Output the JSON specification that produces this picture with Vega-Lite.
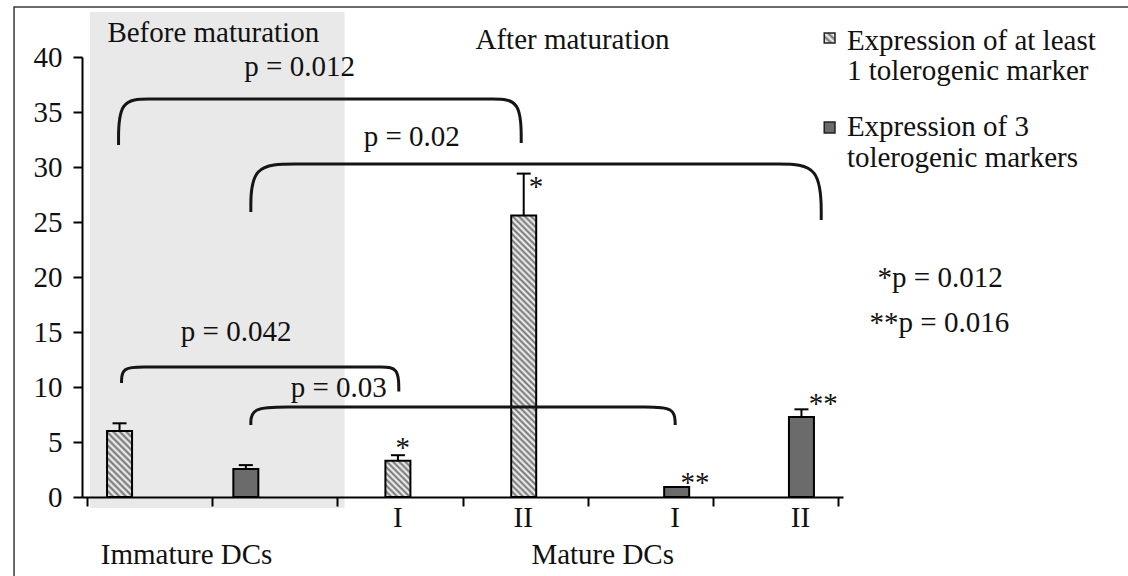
{
"$schema":"https://vega.github.io/schema/vega-lite/v6.json",
"autosize":{"type":"none"},
"padding":{"left":82,"top":57,"right":285,"bottom":79},
"width":761,"height":440,
"background":"white",
"config":{"view":{"stroke":null},"text":{"font":"Liberation Serif","fontSize":29,"color":"#111"},"axis":{"labelFont":"Liberation Serif","labelFontSize":29,"labelColor":"#111"}},
"datasets":{
"frame":[{"x":-0.583,"x2":9,"y":44.55,"y2":-9}],
"shade":[{"x":0.024,"x2":2.058,"y":44.09,"y2":-1.0}],
"bars":[
{"id":"a","s":"hatched","x":0.26,"y":6.0,"e":6.7},
{"id":"b","s":"dark","x":1.269,"y":2.55,"e":2.9},
{"id":"c","s":"hatched","x":2.484,"y":3.3,"e":3.8},
{"id":"d","s":"hatched","x":3.489,"y":25.6,"e":29.4},
{"id":"e","s":"dark","x":4.711,"y":0.9,"e":null},
{"id":"f","s":"dark","x":5.708,"y":7.27,"e":7.97}],
"brackets":[
{"b":1,"i":0,"x":0.252,"y":32.0},{"b":1,"i":1,"x":0.252,"y":36.18},{"b":1,"i":2,"x":0.496,"y":36.18},{"b":1,"i":3,"x":0.740,"y":36.18},{"b":1,"i":4,"x":3.011,"y":36.18},{"b":1,"i":5,"x":3.240,"y":36.18},{"b":1,"i":6,"x":3.469,"y":36.18},{"b":1,"i":7,"x":3.469,"y":32.18},
{"b":2,"i":0,"x":1.309,"y":25.91},{"b":2,"i":1,"x":1.309,"y":30.27},{"b":2,"i":2,"x":1.664,"y":30.27},{"b":2,"i":3,"x":2.019,"y":30.27},{"b":2,"i":4,"x":5.188,"y":30.27},{"b":2,"i":5,"x":5.527,"y":30.27},{"b":2,"i":6,"x":5.866,"y":30.27},{"b":2,"i":7,"x":5.866,"y":25.18},
{"b":3,"i":0,"x":0.276,"y":10.36},{"b":3,"i":1,"x":0.276,"y":11.82},{"b":3,"i":2,"x":0.457,"y":11.82},{"b":3,"i":3,"x":0.638,"y":11.82},{"b":3,"i":4,"x":2.207,"y":11.82},{"b":3,"i":5,"x":2.349,"y":11.82},{"b":3,"i":6,"x":2.491,"y":11.82},{"b":3,"i":7,"x":2.491,"y":9.6},
{"b":4,"i":0,"x":1.309,"y":6.55},{"b":4,"i":1,"x":1.309,"y":8.18},{"b":4,"i":2,"x":1.609,"y":8.18},{"b":4,"i":3,"x":1.909,"y":8.18},{"b":4,"i":4,"x":4.211,"y":8.18},{"b":4,"i":5,"x":4.455,"y":8.18},{"b":4,"i":6,"x":4.699,"y":8.18},{"b":4,"i":7,"x":4.699,"y":6.55}],
"swatches":[{"s":"hatched","x":5.890,"x2":5.976,"y":42.18,"y2":41.27},{"s":"dark","x":5.890,"x2":5.976,"y":34.09,"y2":33.09}],
"textc":[
{"t":"Before maturation","x":1.009,"y":41.39},
{"t":"After maturation","x":3.879,"y":40.7},
{"t":"p = 0.012","x":1.699,"y":38.27},
{"t":"p = 0.02","x":2.594,"y":31.91},
{"t":"p = 0.042","x":1.191,"y":14.18},
{"t":"p = 0.03","x":2.011,"y":9.09},
{"t":"I","x":2.484,"y":-2.727},
{"t":"II","x":3.485,"y":-2.727},
{"t":"I","x":4.699,"y":-2.727},
{"t":"II","x":5.70,"y":-2.727},
{"t":"Immature DCs","x":0.796,"y":-6.09},
{"t":"Mature DCs","x":4.12,"y":-6.09},
{"t":"*","x":2.523,"y":3.64},
{"t":"*","x":3.587,"y":27.36},
{"t":"**","x":4.857,"y":0.45},
{"t":"**","x":5.882,"y":7.64}],
"textl":[
{"t":"*p = 0.012","x":6.316,"y":19.09},
{"t":"**p = 0.016","x":6.252,"y":15.0},
{"t":"Expression of at least","x":6.071,"y":40.64},
{"t":"1 tolerogenic marker","x":6.071,"y":37.91},
{"t":"Expression of 3","x":6.071,"y":32.82},
{"t":"tolerogenic markers","x":6.071,"y":30.0}]
},
"encoding":{
"x":{"field":"x","type":"quantitative","scale":{"domain":[0,6],"nice":false,"zero":false},"axis":{"values":[0,1,2,3,4,5,6],"labels":false,"title":null,"grid":false,"domainColor":"#000","domainWidth":2,"tickColor":"#000","tickWidth":2,"tickSize":9,"zindex":1}},
"y":{"field":"y","type":"quantitative","scale":{"domain":[0,40],"nice":false,"zero":false},"axis":{"values":[0,5,10,15,20,25,30,35,40],"title":null,"grid":false,"domainColor":"#000","domainWidth":2,"tickColor":"#000","tickWidth":2,"tickSize":9,"labelFont":"Liberation Serif","labelFontSize":29,"labelColor":"#111","labelPadding":11,"zindex":1}}
},
"layer":[
{"data":{"name":"frame"},"mark":{"type":"rect","fill":null,"stroke":"#3a3a3a","strokeWidth":1.5,"clip":false},"encoding":{"x2":{"field":"x2"},"y2":{"field":"y2"}}},
{"data":{"name":"shade"},"mark":{"type":"rect","fill":"#e9e9e9","clip":false},"encoding":{"x2":{"field":"x2"},"y2":{"field":"y2"}}},
{"data":{"name":"bars"},"transform":[{"filter":"datum.s == 'dark'"}],"mark":{"type":"bar","orient":"vertical","width":25,"fill":"#6b6b6b","stroke":"#000","strokeWidth":2,"clip":false},"encoding":{}},
{"data":{"name":"bars"},"transform":[{"filter":"datum.id == 'a'"}],"mark":{"type":"bar","orient":"vertical","width":25,"stroke":"#000","strokeWidth":2,"clip":false,"fill":{"gradient":"linear","x1":0,"y1":1,"x2":0.4567,"y2":-0.2058,"stops":[
{"offset":0,"color":"#707070"},{"offset":0.0357,"color":"#fafafa"},{"offset":0.0714,"color":"#707070"},{"offset":0.1071,"color":"#fafafa"},{"offset":0.1429,"color":"#707070"},{"offset":0.1786,"color":"#fafafa"},{"offset":0.2143,"color":"#707070"},{"offset":0.25,"color":"#fafafa"},{"offset":0.2857,"color":"#707070"},{"offset":0.3214,"color":"#fafafa"},{"offset":0.3571,"color":"#707070"},{"offset":0.3929,"color":"#fafafa"},{"offset":0.4286,"color":"#707070"},{"offset":0.4643,"color":"#fafafa"},{"offset":0.5,"color":"#707070"},{"offset":0.5357,"color":"#fafafa"},{"offset":0.5714,"color":"#707070"},{"offset":0.6071,"color":"#fafafa"},{"offset":0.6429,"color":"#707070"},{"offset":0.6786,"color":"#fafafa"},{"offset":0.7143,"color":"#707070"},{"offset":0.75,"color":"#fafafa"},{"offset":0.7857,"color":"#707070"},{"offset":0.8214,"color":"#fafafa"},{"offset":0.8571,"color":"#707070"},{"offset":0.8929,"color":"#fafafa"},{"offset":0.9286,"color":"#707070"},{"offset":0.9643,"color":"#fafafa"},{"offset":1,"color":"#707070"}]}},"encoding":{}},
{"data":{"name":"bars"},"transform":[{"filter":"datum.id == 'c'"}],"mark":{"type":"bar","orient":"vertical","width":25,"stroke":"#000","strokeWidth":2,"clip":false,"fill":{"gradient":"linear","x1":0,"y1":1,"x2":0.7889,"y2":-0.1454,"stops":[
{"offset":0,"color":"#707070"},{"offset":0.05,"color":"#fafafa"},{"offset":0.1,"color":"#707070"},{"offset":0.15,"color":"#fafafa"},{"offset":0.2,"color":"#707070"},{"offset":0.25,"color":"#fafafa"},{"offset":0.3,"color":"#707070"},{"offset":0.35,"color":"#fafafa"},{"offset":0.4,"color":"#707070"},{"offset":0.45,"color":"#fafafa"},{"offset":0.5,"color":"#707070"},{"offset":0.55,"color":"#fafafa"},{"offset":0.6,"color":"#707070"},{"offset":0.65,"color":"#fafafa"},{"offset":0.7,"color":"#707070"},{"offset":0.75,"color":"#fafafa"},{"offset":0.8,"color":"#707070"},{"offset":0.85,"color":"#fafafa"},{"offset":0.9,"color":"#707070"},{"offset":0.95,"color":"#fafafa"},{"offset":1,"color":"#707070"}]}},"encoding":{}},
{"data":{"name":"bars"},"transform":[{"filter":"datum.id == 'd'"}],"mark":{"type":"bar","orient":"vertical","width":25,"stroke":"#000","strokeWidth":2,"clip":false,"fill":{"gradient":"linear","x1":0,"y1":1,"x2":0.0959,"y2":-0.0803,"stops":[
{"offset":0,"color":"#707070"},{"offset":0.01,"color":"#fafafa"},{"offset":0.02,"color":"#707070"},{"offset":0.03,"color":"#fafafa"},{"offset":0.04,"color":"#707070"},{"offset":0.05,"color":"#fafafa"},{"offset":0.06,"color":"#707070"},{"offset":0.07,"color":"#fafafa"},{"offset":0.08,"color":"#707070"},{"offset":0.09,"color":"#fafafa"},
{"offset":0.10,"color":"#707070"},{"offset":0.11,"color":"#fafafa"},{"offset":0.12,"color":"#707070"},{"offset":0.13,"color":"#fafafa"},{"offset":0.14,"color":"#707070"},{"offset":0.15,"color":"#fafafa"},{"offset":0.16,"color":"#707070"},{"offset":0.17,"color":"#fafafa"},{"offset":0.18,"color":"#707070"},{"offset":0.19,"color":"#fafafa"},
{"offset":0.20,"color":"#707070"},{"offset":0.21,"color":"#fafafa"},{"offset":0.22,"color":"#707070"},{"offset":0.23,"color":"#fafafa"},{"offset":0.24,"color":"#707070"},{"offset":0.25,"color":"#fafafa"},{"offset":0.26,"color":"#707070"},{"offset":0.27,"color":"#fafafa"},{"offset":0.28,"color":"#707070"},{"offset":0.29,"color":"#fafafa"},
{"offset":0.30,"color":"#707070"},{"offset":0.31,"color":"#fafafa"},{"offset":0.32,"color":"#707070"},{"offset":0.33,"color":"#fafafa"},{"offset":0.34,"color":"#707070"},{"offset":0.35,"color":"#fafafa"},{"offset":0.36,"color":"#707070"},{"offset":0.37,"color":"#fafafa"},{"offset":0.38,"color":"#707070"},{"offset":0.39,"color":"#fafafa"},
{"offset":0.40,"color":"#707070"},{"offset":0.41,"color":"#fafafa"},{"offset":0.42,"color":"#707070"},{"offset":0.43,"color":"#fafafa"},{"offset":0.44,"color":"#707070"},{"offset":0.45,"color":"#fafafa"},{"offset":0.46,"color":"#707070"},{"offset":0.47,"color":"#fafafa"},{"offset":0.48,"color":"#707070"},{"offset":0.49,"color":"#fafafa"},
{"offset":0.50,"color":"#707070"},{"offset":0.51,"color":"#fafafa"},{"offset":0.52,"color":"#707070"},{"offset":0.53,"color":"#fafafa"},{"offset":0.54,"color":"#707070"},{"offset":0.55,"color":"#fafafa"},{"offset":0.56,"color":"#707070"},{"offset":0.57,"color":"#fafafa"},{"offset":0.58,"color":"#707070"},{"offset":0.59,"color":"#fafafa"},
{"offset":0.60,"color":"#707070"},{"offset":0.61,"color":"#fafafa"},{"offset":0.62,"color":"#707070"},{"offset":0.63,"color":"#fafafa"},{"offset":0.64,"color":"#707070"},{"offset":0.65,"color":"#fafafa"},{"offset":0.66,"color":"#707070"},{"offset":0.67,"color":"#fafafa"},{"offset":0.68,"color":"#707070"},{"offset":0.69,"color":"#fafafa"},
{"offset":0.70,"color":"#707070"},{"offset":0.71,"color":"#fafafa"},{"offset":0.72,"color":"#707070"},{"offset":0.73,"color":"#fafafa"},{"offset":0.74,"color":"#707070"},{"offset":0.75,"color":"#fafafa"},{"offset":0.76,"color":"#707070"},{"offset":0.77,"color":"#fafafa"},{"offset":0.78,"color":"#707070"},{"offset":0.79,"color":"#fafafa"},
{"offset":0.80,"color":"#707070"},{"offset":0.81,"color":"#fafafa"},{"offset":0.82,"color":"#707070"},{"offset":0.83,"color":"#fafafa"},{"offset":0.84,"color":"#707070"},{"offset":0.85,"color":"#fafafa"},{"offset":0.86,"color":"#707070"},{"offset":0.87,"color":"#fafafa"},{"offset":0.88,"color":"#707070"},{"offset":0.89,"color":"#fafafa"},
{"offset":0.90,"color":"#707070"},{"offset":0.91,"color":"#fafafa"},{"offset":0.92,"color":"#707070"},{"offset":0.93,"color":"#fafafa"},{"offset":0.94,"color":"#707070"},{"offset":0.95,"color":"#fafafa"},{"offset":0.96,"color":"#707070"},{"offset":0.97,"color":"#fafafa"},{"offset":0.98,"color":"#707070"},{"offset":0.99,"color":"#fafafa"},
{"offset":1,"color":"#707070"}]}},"encoding":{}},
{"data":{"name":"bars"},"transform":[{"filter":"datum.e != null"}],"mark":{"type":"rule","color":"#000","strokeWidth":2,"clip":false},"encoding":{"y2":{"field":"e"}}},
{"data":{"name":"bars"},"transform":[{"filter":"datum.e != null"}],"mark":{"type":"tick","orient":"horizontal","size":14,"thickness":2,"color":"#000","opacity":1,"clip":false},"encoding":{"y":{"field":"e","type":"quantitative","scale":{"domain":[0,40],"nice":false,"zero":false},"axis":{"values":[0,5,10,15,20,25,30,35,40],"title":null,"grid":false,"domainColor":"#000","domainWidth":2,"tickColor":"#000","tickWidth":2,"tickSize":9,"labelFont":"Liberation Serif","labelFontSize":29,"labelColor":"#111","labelPadding":11,"zindex":1}}}},
{"data":{"name":"brackets"},"mark":{"type":"line","interpolate":"basis","color":"#151515","strokeWidth":3,"clip":false},"encoding":{"detail":{"field":"b"},"order":{"field":"i","type":"quantitative"}}},
{"data":{"name":"swatches"},"transform":[{"filter":"datum.s == 'dark'"}],"mark":{"type":"rect","fill":"#6b6b6b","stroke":"#222","strokeWidth":1.5,"clip":false},"encoding":{"x2":{"field":"x2"},"y2":{"field":"y2"}}},
{"data":{"name":"swatches"},"transform":[{"filter":"datum.s == 'hatched'"}],"mark":{"type":"rect","stroke":"#222","strokeWidth":1.5,"clip":false,"fill":{"gradient":"linear","x1":0,"y1":1,"x2":1,"y2":0,"stops":[{"offset":0,"color":"#707070"},{"offset":0.1667,"color":"#fafafa"},{"offset":0.3333,"color":"#707070"},{"offset":0.5,"color":"#fafafa"},{"offset":0.6667,"color":"#707070"},{"offset":0.8333,"color":"#fafafa"},{"offset":1,"color":"#707070"}]}},"encoding":{"x2":{"field":"x2"},"y2":{"field":"y2"}}},
{"data":{"name":"textc"},"mark":{"type":"text","align":"center","baseline":"alphabetic","clip":false},"encoding":{"text":{"field":"t"}}},
{"data":{"name":"textl"},"mark":{"type":"text","align":"left","baseline":"alphabetic","clip":false},"encoding":{"text":{"field":"t"}}}
]
}
